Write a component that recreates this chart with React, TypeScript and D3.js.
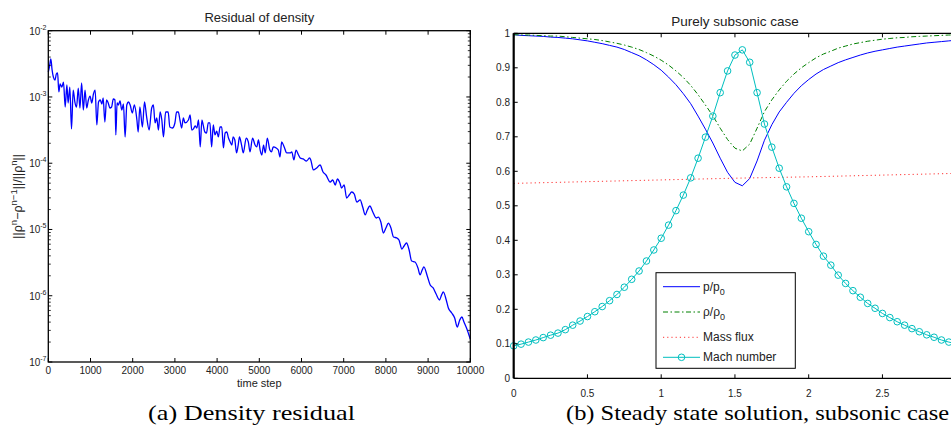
import React from 'react';
import * as d3 from 'd3';

// ---------- Left panel: density residual (time step, residual) ----------
const residual: [number, number][] = [
  [0, 2.38e-3], [30, 2.93e-3], [60, 3.74e-3], [90, 2.55e-3], [120, 2.0e-3], [160, 1.8e-3],
  [190, 2.22e-3], [220, 2.3e-3], [250, 1.19e-3], [280, 1.57e-3], [320, 1.41e-3], [360, 1.68e-3],
  [400, 7.05e-4], [440, 1.52e-3], [470, 8.11e-4], [510, 1.41e-3], [550, 3.29e-4], [590, 1.27e-3],
  [630, 8.39e-4], [670, 7.05e-4], [710, 1.36e-3], [750, 6.81e-4], [790, 1.63e-3], [830, 6.35e-4],
  [870, 1.27e-3], [910, 6.81e-4], [950, 9.0e-4], [990, 1.03e-3], [1030, 8.11e-4], [1070, 1.11e-3],
  [1110, 1.27e-3], [1150, 3.78e-4], [1190, 8.39e-4], [1230, 9.0e-4], [1270, 7.83e-4], [1300, 9.64e-4],
  [1340, 4.19e-4], [1380, 9.0e-4], [1420, 8.11e-4], [1460, 6.81e-4], [1500, 7.05e-4], [1540, 9.31e-4],
  [1580, 9.0e-4], [1600, 2.67e-4], [1630, 8.11e-4], [1660, 7.56e-4], [1700, 8.69e-4], [1740, 6.35e-4],
  [1780, 7.83e-4], [1820, 2.49e-4], [1860, 7.56e-4], [1900, 8.39e-4], [1940, 7.56e-4], [1990, 5.73e-4],
  [2040, 7.56e-4], [2100, 4.49e-4], [2130, 2.96e-4], [2170, 7.05e-4], [2230, 3.52e-4], [2280, 8.39e-4],
  [2330, 4.99e-4], [2390, 3.17e-4], [2450, 6.81e-4], [2490, 7.56e-4], [2530, 4.05e-4], [2570, 4.81e-4],
  [2610, 3.17e-4], [2650, 5.93e-4], [2690, 4.49e-4], [2730, 2.49e-4], [2780, 5.93e-4], [2840, 5.93e-4],
  [2880, 3.52e-4], [2940, 3.4e-4], [3000, 4.05e-4], [3040, 5.93e-4], [3080, 5.93e-4], [3120, 4.49e-4],
  [3160, 3.4e-4], [3200, 4.81e-4], [3240, 4.05e-4], [3320, 4.49e-4], [3360, 5.35e-4], [3400, 3.17e-4],
  [3440, 3.29e-4], [3480, 3.65e-4], [3520, 3.4e-4], [3560, 4.49e-4], [3600, 1.76e-4], [3640, 4.49e-4],
  [3670, 3.78e-4], [3710, 2.96e-4], [3750, 2.86e-4], [3790, 4.05e-4], [3830, 4.05e-4], [3870, 1.76e-4],
  [3910, 3.78e-4], [3950, 2.67e-4], [3990, 3.06e-4], [4030, 2.49e-4], [4070, 3.52e-4], [4110, 3.52e-4],
  [4150, 1.7e-4], [4190, 2.86e-4], [4230, 2.96e-4], [4270, 2.4e-4], [4310, 2.09e-4], [4350, 1.88e-4],
  [4380, 2.49e-4], [4420, 2.24e-4], [4460, 1.43e-4], [4500, 1.88e-4], [4530, 2.49e-4], [4580, 1.88e-4],
  [4620, 1.43e-4], [4690, 2.4e-4], [4740, 2.09e-4], [4780, 1.48e-4], [4840, 2.4e-4], [4900, 1.88e-4],
  [4940, 1.76e-4], [4980, 2.24e-4], [5020, 1.58e-4], [5060, 1.33e-4], [5100, 1.88e-4], [5140, 1.43e-4],
  [5190, 2.4e-4], [5250, 1.58e-4], [5290, 1.48e-4], [5330, 1.76e-4], [5400, 1.7e-4], [5450, 1.58e-4],
  [5490, 1.24e-4], [5530, 2.09e-4], [5590, 1.76e-4], [5650, 1.43e-4], [5730, 1.43e-4], [5770, 1.48e-4],
  [5820, 1.12e-4], [5870, 1.58e-4], [5930, 1.33e-4], [5970, 1.2e-4], [6040, 1.16e-4], [6120, 1.08e-4],
  [6190, 1.2e-4], [6220, 1.12e-4], [6280, 7.91e-5], [6360, 8.48e-5], [6440, 9.4e-5], [6510, 7.38e-5],
  [6580, 6.64e-5], [6680, 5.21e-5], [6740, 5.58e-5], [6800, 4.69e-5], [6850, 5.78e-5], [6910, 5.03e-5],
  [6950, 4.23e-5], [7010, 4.69e-5], [7070, 2.98e-5], [7130, 3.31e-5], [7190, 3.68e-5], [7250, 3.43e-5],
  [7310, 2.6e-5], [7390, 2.79e-5], [7450, 2.18e-5], [7510, 1.66e-5], [7560, 1.97e-5], [7620, 2.26e-5],
  [7690, 1.84e-5], [7770, 1.49e-5], [7820, 1.54e-5], [7880, 1.3e-5], [7940, 8.85e-6], [8000, 1.05e-5],
  [8060, 1.25e-5], [8120, 1.05e-5], [8180, 7.69e-6], [8260, 7.44e-6], [8310, 6.94e-6], [8380, 5.07e-6],
  [8430, 5.63e-6], [8490, 6.25e-6], [8550, 4.9e-6], [8610, 3.34e-6], [8690, 3.23e-6], [8760, 2.62e-6],
  [8810, 2.06e-6], [8860, 2.45e-6], [8900, 2.72e-6], [8980, 1.99e-6], [9050, 1.45e-6], [9120, 1.31e-6],
  [9190, 1.06e-6], [9270, 8.63e-7], [9320, 1.03e-6], [9360, 1.14e-6], [9430, 8.63e-7], [9480, 6.53e-7],
  [9560, 5.49e-7], [9630, 4.61e-7], [9690, 3.37e-7], [9750, 4.3e-7], [9800, 4.78e-7], [9850, 4.02e-7],
  [9920, 3.15e-7], [9960, 2.65e-7], [10000, 2.22e-7],
];
const leftXTicks = [0, 1000, 2000, 3000, 4000, 5000, 6000, 7000, 8000, 9000, 10000];
const leftYDecades = [-2, -3, -4, -5, -6, -7];

// ---------- Right panel: steady state, subsonic ----------
const gridX = d3.range(61).map((i) => +(i * 0.05).toFixed(2));
const pressureRatio = [
  0.996, 0.994, 0.993, 0.992, 0.991, 0.989, 0.988, 0.986, 0.984, 0.981, 0.978, 0.974, 0.97, 0.965, 0.96,
  0.953, 0.944, 0.935, 0.923, 0.909, 0.893, 0.873, 0.851, 0.825, 0.796, 0.76, 0.722, 0.682, 0.638, 0.597,
  0.568, 0.558, 0.579, 0.63, 0.69, 0.735, 0.772, 0.8, 0.826, 0.848, 0.866, 0.882, 0.895, 0.905, 0.915,
  0.923, 0.93, 0.937, 0.943, 0.948, 0.952, 0.956, 0.96, 0.963, 0.966, 0.969, 0.972, 0.974, 0.976, 0.978, 0.98,
];
const densityRatio = [
  0.996, 0.995, 0.995, 0.994, 0.993, 0.992, 0.992, 0.99, 0.988, 0.986, 0.984, 0.982, 0.979, 0.975, 0.971,
  0.966, 0.96, 0.953, 0.944, 0.934, 0.922, 0.908, 0.891, 0.872, 0.849, 0.822, 0.792, 0.761, 0.725, 0.692,
  0.667, 0.659, 0.679, 0.725, 0.773, 0.807, 0.836, 0.861, 0.882, 0.9, 0.915, 0.929, 0.94, 0.948, 0.957,
  0.963, 0.969, 0.973, 0.977, 0.98, 0.983, 0.985, 0.987, 0.988, 0.99, 0.991, 0.992, 0.993, 0.994, 0.995, 0.995,
];
const machNumber = [
  0.094, 0.099, 0.105, 0.111, 0.118, 0.125, 0.131, 0.141, 0.154, 0.166, 0.179, 0.193, 0.208, 0.225, 0.243,
  0.264, 0.287, 0.311, 0.34, 0.372, 0.406, 0.444, 0.486, 0.531, 0.581, 0.638, 0.699, 0.76, 0.828, 0.891,
  0.937, 0.952, 0.916, 0.828, 0.737, 0.67, 0.609, 0.555, 0.507, 0.464, 0.425, 0.388, 0.354, 0.328, 0.299,
  0.275, 0.254, 0.235, 0.217, 0.203, 0.188, 0.176, 0.164, 0.154, 0.144, 0.135, 0.126, 0.119, 0.111, 0.105, 0.1,
];
const massX = [0, 0.5, 1, 1.5, 2, 2.5, 3];
const massFlux = [0.565, 0.57, 0.575, 0.58, 0.584, 0.589, 0.594];
const rightXTicks = [0, 0.5, 1, 1.5, 2, 2.5, 3];
const rightYTicks = [0, 0.1, 0.2, 0.3, 0.4, 0.5, 0.6, 0.7, 0.8, 0.9, 1];

const SANS = "'Liberation Sans', Arial, Helvetica, sans-serif";
const SERIF = "'Liberation Serif', 'Times New Roman', serif";
const TXT = '#222';
const W = 951;

export default function App() {
  // Left scales
  const L = { x0: 48.3, x1: 470.3, y0: 30.7, y1: 362 };
  const xL = d3.scaleLinear().domain([0, 10000]).range([L.x0, L.x1]);
  const yL = d3.scaleLog().domain([1e-7, 1e-2]).range([L.y1, L.y0]);
  const resLine = d3
    .line<[number, number]>()
    .x((d) => xL(d[0]))
    .y((d) => yL(d[1]))
    .curve(d3.curveMonotoneX)(residual) as string;

  const minor: number[] = [];
  for (let d = -7; d < -2; d++) for (let k = 2; k <= 9; k++) minor.push(k * Math.pow(10, d));

  // Right scales
  const R = { x0: 513.7, x1: 956.2, y0: 33.3, y1: 378.3 };
  const xR = d3.scaleLinear().domain([0, 3]).range([R.x0, R.x1]);
  const yR = d3.scaleLinear().domain([0, 1]).range([R.y1, R.y0]);
  const mk = (ys: number[]) =>
    d3
      .line<number>()
      .x((_, i) => xR(gridX[i]))
      .y((v) => yR(v))(ys) as string;
  const pLine = mk(pressureRatio);
  const rLine = mk(densityRatio);
  const mLine = mk(machNumber);
  const fLine = d3
    .line<number>()
    .x((_, i) => xR(massX[i]))
    .y((v) => yR(v))(massFlux) as string;

  const greenDash = '5,2.5,1.5,2.5';
  const redDash = '1.2,3';
  const cyan = '#00bfbf';

  // legend geometry
  const lg = { x: 656, y: 272.7, w: 139.3, h: 95.6 };
  const rows = [286.7, 312, 337.3, 357.3];
  const ls0 = 663, ls1 = 700, lt = 703;

  return (
    <div style={{ position: 'absolute', left: 0, top: 0 }}>
      <svg width={W} height={435} style={{ display: 'block', background: '#fff' }}>
        <rect x={0} y={0} width={W} height={435} fill="#fff" />
        {/* ===== LEFT PANEL ===== */}
        <text x={259.3} y={22} textAnchor="middle" fontFamily={SANS} fontSize={13} fill={TXT}>
          Residual of density
        </text>
        <path d={resLine} fill="none" stroke="#0000ff" strokeWidth={1.3} strokeLinejoin="round" />
        <rect x={L.x0} y={L.y0} width={L.x1 - L.x0} height={L.y1 - L.y0} fill="none" stroke="#000" strokeWidth={1.3} />
        {leftXTicks.map((t) => (
          <g key={'lx' + t}>
            <line x1={xL(t)} x2={xL(t)} y1={L.y1} y2={L.y1 - 4} stroke="#000" strokeWidth={1} />
            <line x1={xL(t)} x2={xL(t)} y1={L.y0} y2={L.y0 + 4} stroke="#000" strokeWidth={1} />
            <text x={xL(t)} y={373.5} textAnchor="middle" fontFamily={SANS} fontSize={10} fill={TXT}>
              {t}
            </text>
          </g>
        ))}
        {leftYDecades.map((d) => {
          const y = yL(Math.pow(10, d));
          return (
            <g key={'ly' + d}>
              <line x1={L.x0} x2={L.x0 + 4} y1={y} y2={y} stroke="#000" strokeWidth={1} />
              <line x1={L.x1} x2={L.x1 - 4} y1={y} y2={y} stroke="#000" strokeWidth={1} />
              <text x={46.5} y={y + 4} textAnchor="end" fontFamily={SANS} fontSize={10} fill={TXT}>
                10
                <tspan fontSize={7} dy={-5}>
                  {'-' + -d}
                </tspan>
              </text>
            </g>
          );
        })}
        {minor.map((v, i) => (
          <g key={'lm' + i}>
            <line x1={L.x0} x2={L.x0 + 2.5} y1={yL(v)} y2={yL(v)} stroke="#000" strokeWidth={0.8} />
            <line x1={L.x1} x2={L.x1 - 2.5} y1={yL(v)} y2={yL(v)} stroke="#000" strokeWidth={0.8} />
          </g>
        ))}
        <text x={259.3} y={387} textAnchor="middle" fontFamily={SANS} fontSize={11} fill={TXT}>
          time step
        </text>
        <text
          transform={`translate(22,${(L.y0 + L.y1) / 2}) rotate(-90)`}
          textAnchor="middle"
          fontFamily={SANS}
          fontSize={12.5}
          fill={TXT}
        >
          ||ρ<tspan fontSize={9.5} dy={-5}>n</tspan>
          <tspan dy={5}>−ρ</tspan>
          <tspan fontSize={9.5} dy={-5}>n−1</tspan>
          <tspan dy={5}>||/||ρ</tspan>
          <tspan fontSize={9.5} dy={-5}>n</tspan>
          <tspan dy={5}>||</tspan>
        </text>

        {/* ===== RIGHT PANEL ===== */}
        <rect x={R.x0} y={R.y0 - 2} width={W - R.x0} height={R.y1 - R.y0 + 4} fill="#fff" />
        <text x={735} y={25.5} textAnchor="middle" fontFamily={SANS} fontSize={13.5} fill={TXT}>
          Purely subsonic case
        </text>
        <path d={pLine} fill="none" stroke="#0000ff" strokeWidth={1} />
        <path d={rLine} fill="none" stroke="#008000" strokeWidth={1} strokeDasharray={greenDash} />
        <path d={fLine} fill="none" stroke="#ff3333" strokeWidth={1} strokeDasharray={redDash} />
        <path d={mLine} fill="none" stroke={cyan} strokeWidth={1} />
        {machNumber.map((v, i) => (
          <circle key={'mc' + i} cx={xR(gridX[i])} cy={yR(v)} r={3.3} fill="none" stroke={cyan} strokeWidth={1} />
        ))}
        <line x1={R.x0} x2={W} y1={R.y0} y2={R.y0} stroke="#000" strokeWidth={1.3} />
        <line x1={R.x0} x2={W} y1={R.y1} y2={R.y1} stroke="#000" strokeWidth={1.3} />
        <line x1={R.x0} x2={R.x0} y1={R.y0} y2={R.y1} stroke="#000" strokeWidth={2.2} />
        {rightXTicks.map((t) => (
          <g key={'rx' + t}>
            <line x1={xR(t)} x2={xR(t)} y1={R.y1} y2={R.y1 - 4} stroke="#000" strokeWidth={1} />
            <line x1={xR(t)} x2={xR(t)} y1={R.y0} y2={R.y0 + 4} stroke="#000" strokeWidth={1} />
            {xR(t) < W - 6 && (
              <text x={xR(t)} y={396.5} textAnchor="middle" fontFamily={SANS} fontSize={10} fill={TXT}>
                {String(t)}
              </text>
            )}
          </g>
        ))}
        {rightYTicks.map((t) => (
          <g key={'ry' + t}>
            <line x1={R.x0} x2={R.x0 + 4} y1={yR(t)} y2={yR(t)} stroke="#000" strokeWidth={1} />
            <text x={510} y={yR(t) + 3.5} textAnchor="end" fontFamily={SANS} fontSize={10} fill={TXT}>
              {String(t)}
            </text>
          </g>
        ))}

        {/* legend */}
        <rect x={lg.x} y={lg.y} width={lg.w} height={lg.h} fill="#fff" stroke="#000" strokeWidth={1} />
        <line x1={ls0} x2={ls1} y1={rows[0]} y2={rows[0]} stroke="#0000ff" strokeWidth={1} />
        <text x={lt} y={rows[0] + 4} fontFamily={SANS} fontSize={12} fill={TXT}>
          p/p<tspan fontSize={9} dy={4}>0</tspan>
        </text>
        <line x1={ls0} x2={ls1} y1={rows[1]} y2={rows[1]} stroke="#008000" strokeWidth={1} strokeDasharray={greenDash} />
        <text x={lt} y={rows[1] + 4} fontFamily={SANS} fontSize={12} fill={TXT}>
          ρ/ρ<tspan fontSize={9} dy={4}>0</tspan>
        </text>
        <line x1={ls0} x2={ls1} y1={rows[2]} y2={rows[2]} stroke="#ff3333" strokeWidth={1} strokeDasharray={redDash} />
        <text x={lt} y={rows[2] + 4} fontFamily={SANS} fontSize={12} fill={TXT}>
          Mass flux
        </text>
        <line x1={ls0} x2={ls1} y1={rows[3]} y2={rows[3]} stroke={cyan} strokeWidth={1} />
        <circle cx={(ls0 + ls1) / 2} cy={rows[3]} r={3.3} fill="none" stroke={cyan} strokeWidth={1} />
        <text x={lt} y={rows[3] + 4} fontFamily={SANS} fontSize={12} fill={TXT}>
          Mach number
        </text>

        {/* captions */}
        <text x={251.5} y={420} textAnchor="middle" fontFamily={SERIF} fontSize={21} fill="#000"
          textLength={207} lengthAdjust="spacingAndGlyphs">
          (a) Density residual
        </text>
        <text x={757.5} y={420} textAnchor="middle" fontFamily={SERIF} fontSize={21} fill="#000"
          textLength={383} lengthAdjust="spacingAndGlyphs">
          (b) Steady state solution, subsonic case
        </text>
      </svg>
    </div>
  );
}
